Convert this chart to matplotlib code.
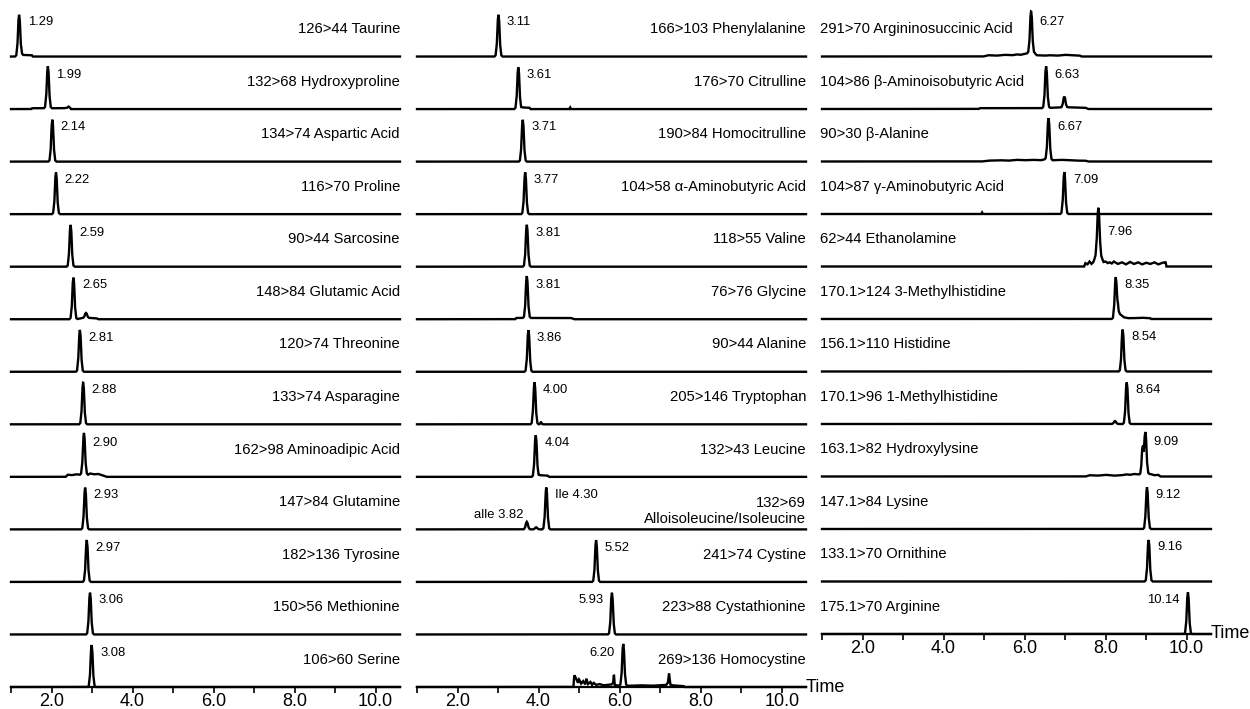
import numpy as np
import matplotlib.pyplot as plt

plt.rcParams["font.family"] = ["Liberation Sans", "DejaVu Sans"]

# ---- data ----

names1 = [
    "126>44 Taurine", "132>68 Hydroxyproline", "134>74 Aspartic Acid",
    "116>70 Proline", "90>44 Sarcosine", "148>84 Glutamic Acid",
    "120>74 Threonine", "133>74 Asparagine", "162>98 Aminoadipic Acid",
    "147>84 Glutamine", "182>136 Tyrosine", "150>56 Methionine",
    "106>60 Serine",
]
rt1 = ["1.29", "1.99", "2.14", "2.22", "2.59", "2.65", "2.81", "2.88",
       "2.90", "2.93", "2.97", "3.06", "3.08"]
pos1 = [1.20, 1.91, 2.02, 2.11, 2.47, 2.54, 2.70, 2.78, 2.80, 2.83, 2.87,
        2.95, 2.99]
side1 = ["r"] * 13

names2 = [
    "166>103 Phenylalanine", "176>70 Citrulline", "190>84 Homocitrulline",
    "104>58 α-Aminobutyric Acid", "118>55 Valine", "76>76 Glycine",
    "90>44 Alanine", "205>146 Tryptophan", "132>43 Leucine",
    "132>69\nAlloisoleucine/Isoleucine", "241>74 Cystine",
    "223>88 Cystathionine", "269>136 Homocystine",
]
rt2 = ["3.11", "3.61", "3.71", "3.77", "3.81", "3.81", "3.86", "4.00",
       "4.04", "Ile 4.30", "5.52", "5.93", "6.20"]
pos2 = [3.01, 3.50, 3.61, 3.67, 3.71, 3.71, 3.75, 3.90, 3.93, 4.19, 5.42,
        5.81, 6.09]
side2 = ["r"] * 11 + ["l", "l"]

names3 = [
    "291>70 Argininosuccinic Acid", "104>86 β-Aminoisobutyric Acid",
    "90>30 β-Alanine", "104>87 γ-Aminobutyric Acid", "62>44 Ethanolamine",
    "170.1>124 3-Methylhistidine", "156.1>110 Histidine",
    "170.1>96 1-Methylhistidine", "163.1>82 Hydroxylysine",
    "147.1>84 Lysine", "133.1>70 Ornithine", "175.1>70 Arginine",
]
rt3 = ["6.27", "6.63", "6.67", "7.09", "7.96", "8.35", "8.54", "8.64",
       "9.09", "9.12", "9.16", "10.14"]
pos3 = [6.16, 6.53, 6.59, 6.98, 7.82, 8.25, 8.42, 8.52, 8.98, 9.02, 9.06,
        10.03]
side3 = ["r"] * 11 + ["l"]

# shape of one normalised peak (offset in min, relative height)
peak_dx = [-0.1, -0.07, -0.04, -0.018, 0.0, 0.018, 0.04, 0.07, 0.1]
peak_shape = [0.0, 0.03, 0.3, 0.85, 1.0, 0.85, 0.3, 0.03, 0.0]

# minor peaks: (column, row, position, relative height, width scale)
minor_peaks = [
    (0, 5, 2.85, 0.12, 1.0),
    (1, 7, 4.06, 0.05, 0.6),
    (1, 9, 3.71, 0.18, 1.0),
    (1, 9, 3.94, 0.05, 1.0),
    (2, 1, 6.98, 0.26, 1.0),
    (2, 4, 7.82, 0.25, 1.8),
    (2, 7, 8.23, 0.07, 1.0),
    (2, 8, 8.91, 0.62, 0.8),
]

# noisy baseline stretches: (column, row, times, heights)
taurine_x = [1.22, 1.26, 1.45, 1.52, 1.54]
taurine_y = [0.0, 0.04, 0.03, 0.03, 0.0]
hyp_x = [1.50, 1.52, 2.30, 2.38, 2.42, 2.46, 2.48]
hyp_y = [0.0, 0.02, 0.02, 0.03, 0.06, 0.03, 0.0]
glu_x = [2.62, 2.75, 2.95, 3.12, 3.15]
glu_y = [0.0, 0.03, 0.03, 0.02, 0.0]
aad_x = [2.35, 2.40, 2.50, 2.60, 2.70, 2.90, 2.95, 3.05, 3.15, 3.25, 3.36]
aad_y = [0.0, 0.05, 0.04, 0.06, 0.05, 0.05, 0.08, 0.06, 0.07, 0.04, 0.0]
cit_x = [3.55, 3.60, 3.78, 3.80, 4.76, 4.78, 4.80]
cit_y = [0.0, 0.04, 0.03, 0.0, 0.0, 0.04, 0.0]
gly_x = [3.42, 3.45, 4.80, 4.88]
gly_y = [0.0, 0.03, 0.03, 0.0]
leu_x = [3.98, 4.02, 4.22, 4.26]
leu_y = [0.0, 0.04, 0.03, 0.0]
hcy_x = [4.86, 4.88, 4.92, 4.97, 5.00, 5.05, 5.10, 5.15, 5.18, 5.22, 5.28,
         5.32, 5.36, 5.42, 5.50, 5.60, 5.70, 5.80, 5.84, 5.86, 5.88, 5.92,
         6.00, 6.30, 6.50, 6.80, 7.00, 7.15, 7.19, 7.22, 7.25, 7.30, 7.45,
         7.58, 7.60]
hcy_y = [0.0, 0.28, 0.22, 0.10, 0.18, 0.08, 0.14, 0.06, 0.20, 0.07, 0.12,
         0.05, 0.10, 0.05, 0.07, 0.04, 0.05, 0.06, 0.10, 0.30, 0.05, 0.04,
         0.03, 0.03, 0.04, 0.03, 0.04, 0.05, 0.10, 0.32, 0.06, 0.04, 0.03,
         0.02, 0.0]
asa_x = [4.98, 5.10, 5.30, 5.50, 5.70, 5.80, 5.90, 6.00, 6.08, 6.25, 6.30,
         6.50, 6.60, 6.80, 7.00, 7.20, 7.37, 7.40]
asa_y = [0.0, 0.03, 0.02, 0.04, 0.03, 0.05, 0.04, 0.06, 0.08, 0.08, 0.03,
         0.02, 0.03, 0.02, 0.04, 0.03, 0.02, 0.0]
baiba_x = [4.86, 4.90, 6.40, 6.70, 7.10, 7.50, 7.57]
baiba_y = [0.0, 0.02, 0.02, 0.03, 0.04, 0.03, 0.0]
bala_x = [4.94, 5.10, 5.40, 5.60, 5.80, 6.00, 6.20, 6.40, 6.50, 6.70, 6.90,
          7.10, 7.30, 7.50, 7.57]
bala_y = [0.0, 0.02, 0.03, 0.02, 0.04, 0.03, 0.04, 0.03, 0.05, 0.03, 0.04,
          0.03, 0.02, 0.02, 0.0]
gaba_x = [4.93, 4.95, 4.97]
gaba_y = [0.0, 0.04, 0.0]
eta_x = [7.47, 7.50, 7.55, 7.60, 7.65, 7.70, 7.74, 7.90, 7.95, 8.00, 8.05,
         8.10, 8.15, 8.20, 8.30, 8.40, 8.50, 8.60, 8.70, 8.80, 8.90, 9.00,
         9.10, 9.20, 9.30, 9.40, 9.48, 9.50]
eta_y = [0.0, 0.08, 0.05, 0.12, 0.06, 0.10, 0.15, 0.15, 0.10, 0.12, 0.08,
         0.10, 0.07, 0.12, 0.06, 0.10, 0.05, 0.11, 0.06, 0.10, 0.05, 0.09,
         0.06, 0.10, 0.05, 0.09, 0.10, 0.0]
mh3_x = [8.27, 8.30, 8.35, 8.40, 8.45, 8.55, 8.70, 8.90, 9.10, 9.12]
mh3_y = [0.0, 0.20, 0.12, 0.08, 0.04, 0.02, 0.02, 0.03, 0.02, 0.0]
hyl_x = [7.50, 7.60, 7.80, 8.00, 8.20, 8.40, 8.50, 8.60, 8.70, 8.80, 9.10,
         9.20, 9.30, 9.35]
hyl_y = [0.0, 0.03, 0.02, 0.04, 0.02, 0.03, 0.05, 0.04, 0.06, 0.05, 0.06,
         0.03, 0.04, 0.0]

noise = [
    (0, 0, taurine_x, taurine_y), (0, 1, hyp_x, hyp_y),
    (0, 5, glu_x, glu_y), (0, 8, aad_x, aad_y),
    (1, 1, cit_x, cit_y), (1, 5, gly_x, gly_y), (1, 8, leu_x, leu_y),
    (1, 12, hcy_x, hcy_y),
    (2, 0, asa_x, asa_y), (2, 1, baiba_x, baiba_y), (2, 2, bala_x, bala_y),
    (2, 3, gaba_x, gaba_y), (2, 4, eta_x, eta_y), (2, 5, mh3_x, mh3_y),
    (2, 8, hyl_x, hyl_y),
]

columns = [
    (names1, rt1, pos1, side1),
    (names2, rt2, pos2, side2),
    (names3, rt3, pos3, side3),
]

# ---- layout ----
W, H = 1250, 709
left_px = [11, 417, 822]
bottom_px = [687, 687, 634]
top_px = 4
width_px = 389
xmin, xmax = 1.0, 10.6
top = 0.8  # normalised peak height within one trace slot

fig = plt.figure(figsize=(W / 100, H / 100), dpi=100)

x = np.linspace(xmin, xmax, 4000)

for c, (names, rts, poss, sides) in enumerate(columns):
    n = len(names)
    ax = fig.add_axes([
        left_px[c] / W,
        1 - bottom_px[c] / H,
        width_px / W,
        (bottom_px[c] - top_px) / H,
    ])
    ax.set_xlim(xmin, xmax)
    ax.set_ylim(0, n)

    for r in range(n):
        base = n - 1 - r
        y = np.interp(x - poss[r], peak_dx, peak_shape, left=0, right=0)
        for (mc, mr, mp, mh, mw) in minor_peaks:
            if mc == c and mr == r:
                y = y + mh * np.interp(
                    (x - mp) / mw, peak_dx, peak_shape, left=0, right=0)
        for (nc, nr, nx, ny) in noise:
            if nc == c and nr == r:
                y = y + np.interp(x, nx, ny, left=0, right=0)

        ax.plot(x, base + top * y, color="black", lw=1.7, clip_on=False,
                solid_joinstyle="miter")

        # retention time label
        if sides[r] == "r":
            ax.text(poss[r] + 0.21, base + 0.65, rts[r], fontsize=9.4,
                    ha="left", va="center")
        else:
            ax.text(poss[r] - 0.21, base + 0.65, rts[r], fontsize=9.4,
                    ha="right", va="center")

        # compound label
        lines = names[r].count("\n")
        ly = base + 0.52 - 0.17 * lines
        if c < 2:
            ax.text(xmax, ly, names[r], fontsize=10.6, ha="right",
                    va="center", linespacing=1.25, multialignment="right")
        else:
            ax.text(xmin - 0.05, ly, names[r], fontsize=10.6, ha="left",
                    va="center")

        if c == 1 and r == 9:
            ax.text(3.64, base + 0.27, "alle 3.82", fontsize=9.4,
                    ha="right", va="center")

    for s in ["top", "right", "left"]:
        ax.spines[s].set_visible(False)
    ax.spines["bottom"].set_linewidth(1.6)
    ax.set_yticks([])
    ax.set_xticks([2, 4, 6, 8, 10])
    ax.set_xticklabels(["2.0", "4.0", "6.0", "8.0", "10.0"])
    ax.set_xticks([1, 3, 5, 7, 9], minor=True)
    ax.tick_params(axis="x", which="both", direction="out", length=4.5,
                   width=1.2, labelsize=13, pad=0)

    if c > 0:
        ax.text(xmax - 0.02, 0, "Time", fontsize=13, ha="left", va="center")

fig.savefig("out.png", dpi=100)
